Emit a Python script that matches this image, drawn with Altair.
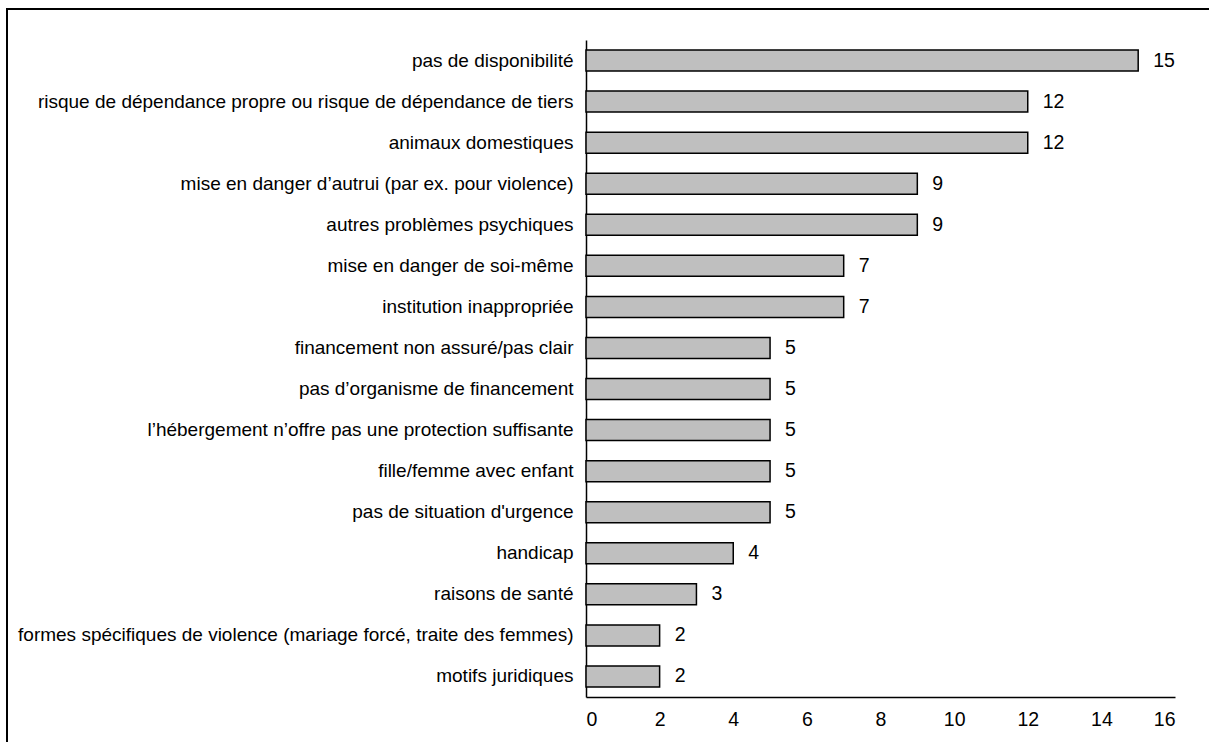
import altair as alt
import pandas as pd

categories = [
    "pas de disponibilité\u00a0",
    "risque de dépendance propre ou risque de dépendance de tiers",
    "animaux domestiques",
    "mise en danger d’autrui (par ex. pour violence)",
    "autres problèmes psychiques",
    "mise en danger de soi-même",
    "institution inappropriée",
    "financement non assuré/pas clair",
    "pas d’organisme de financement",
    "l’hébergement n’offre pas une protection suffisante",
    "fille/femme avec enfant",
    "pas de situation d'urgence",
    "handicap",
    "raisons de santé",
    "formes spécifiques de violence (mariage forcé, traite des femmes)",
    "motifs juridiques",
]
values = [15, 12, 12, 9, 9, 7, 7, 5, 5, 5, 5, 5, 4, 3, 2, 2]
x_ticks = [0, 2, 4, 6, 8, 10, 12, 14, 16]

df = pd.DataFrame({"cat": categories, "val": values})
FONT = "Liberation Sans"

y_enc = alt.Y("cat:N", sort=categories, title=None,
              scale=alt.Scale(paddingInner=0.49, paddingOuter=0.245),
              axis=alt.Axis(domainColor="black", domainWidth=1.5, ticks=False,
                            labelFontSize=19, labelPadding=13, labelLimit=0,
                            labelColor="black", labelFont=FONT))
x_enc = alt.X("val:Q", title=None,
              scale=alt.Scale(domain=[0, 16], nice=False),
              axis=alt.Axis(values=x_ticks, grid=False, ticks=False,
                            domainColor="black", domainWidth=1.5,
                            labelFontSize=19.5, labelPadding=13,
                            labelColor="black", labelFont=FONT))

bars = alt.Chart(df).mark_bar(color="#bfbfbf", stroke="black", strokeWidth=1.5).encode(
    x=x_enc, y=y_enc)

texts = alt.Chart(df).mark_text(align="left", baseline="middle", dx=15, fontSize=19.5,
                                font=FONT, color="black").encode(
    x="val:Q", y=alt.Y("cat:N", sort=categories), text="val:Q")

frame = alt.Chart(alt.Data(values=[{"a": 1}])).mark_rect(
    fill=None, fillOpacity=0, stroke="black", strokeWidth=2, clip=False).encode(
    x=alt.value(-579), x2=alt.value(800), y=alt.value(-31), y2=alt.value(900))

chart = alt.layer(frame, bars, texts).properties(
    width=589, height=657,
    autosize=alt.AutoSizeParams(type="none"),
    padding={"left": 586, "top": 40, "right": 34, "bottom": 45},
    background="white",
).configure_view(stroke=None)

chart.save("out.html", embed_options={"renderer": "svg", "actions": False})
